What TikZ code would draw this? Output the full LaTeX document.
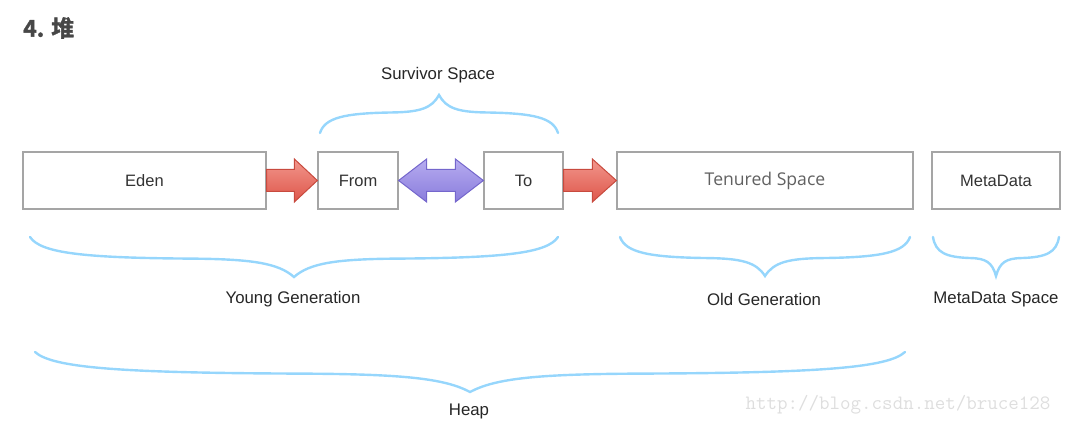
\documentclass[tikz,border=0pt]{standalone}
\usepackage{fontspec}
\setmainfont{Liberation Sans}
\newfontfamily\cjkfont{Noto Sans CJK SC}[BoldFont={Noto Sans CJK SC Bold}, BoldFeatures={FakeBold=1.6}]
\newfontfamily\tenfont{Open Sans}
\usepackage{tikz}
\usetikzlibrary{calc}

\definecolor{boxline}{RGB}{165,165,165}
\definecolor{bracecol}{RGB}{150,214,252}
\definecolor{redtop}{RGB}{242,150,140}
\definecolor{redbot}{RGB}{222,86,74}
\definecolor{redline}{RGB}{200,74,62}
\definecolor{violtop}{RGB}{182,172,240}
\definecolor{violbot}{RGB}{138,124,220}
\definecolor{violline}{RGB}{116,102,204}

\tikzset{
  membox/.style={draw=boxline, line width=1.3, fill=white, minimum height=57,
    text=black!80, font=\fontsize{16.5}{19}\selectfont},
  brace/.style={draw=bracecol, line width=2.4, line cap=round},
  lbl/.style={text=black!85, font=\fontsize{16.8}{19}\selectfont},
  redarrow/.style={draw=redline, line width=1, top color=redtop, bottom color=redbot},
  violarrow/.style={draw=violline, line width=1, top color=violtop, bottom color=violbot}
}

% curly brace: x1, x2, y, depth (negative = points up)
\newcommand{\hbrace}[4]{%
  \pgfmathsetmacro{\brw}{#2-#1}
  \draw[brace] (#1,#3) .. controls ({#1+0.02*\brw},{#3+0.4*#4}) and ({#1+0.1*\brw},{#3+0.52*#4}) .. ({#1+0.3*\brw},{#3+0.54*#4})
    .. controls ({#1+0.42*\brw},{#3+0.55*#4}) and ({#1+0.47*\brw},{#3+0.65*#4}) .. ({#1+0.5*\brw},{#3+#4})
    .. controls ({#1+0.53*\brw},{#3+0.65*#4}) and ({#1+0.58*\brw},{#3+0.55*#4}) .. ({#1+0.7*\brw},{#3+0.54*#4})
    .. controls ({#1+0.9*\brw},{#3+0.52*#4}) and ({#1+0.98*\brw},{#3+0.4*#4}) .. (#2,#3);
}

\begin{document}
\begin{tikzpicture}[x=1pt, y=-1pt]
\useasboundingbox (0,0) rectangle (1080,422);

\node[anchor=west, inner sep=0, text=black!72, font=\cjkfont\bfseries\fontsize{23}{26}\selectfont] (title) at (23,28) {4. 堆};

% memory areas
\node[membox, minimum width=243] (eden) at (144.5,180.5) {Eden};
\node[membox, minimum width=80] (from) at (358,180.5) {From};
\node[membox, minimum width=79] (to) at (523.5,180.5) {To};
\node[membox, minimum width=296, text=black!62, font=\tenfont\fontsize{17.6}{20}\selectfont] (tenured) at (765,180.5) {Tenured Space};
\node[membox, minimum width=128] (meta) at (996,180.5) {MetaData};

% block arrows
\draw[redarrow] ($(eden.east)+(0,-11)$) -- ($(from.west)+(-23,-11)$) -- ($(from.west)+(-23,-21.5)$)
  -- (from.west) -- ($(from.west)+(-23,21.5)$) -- ($(from.west)+(-23,11)$) -- ($(eden.east)+(0,11)$) -- cycle;
\draw[violarrow] (from.east) -- ($(from.east)+(28,-21.5)$) -- ($(from.east)+(28,-11)$) -- ($(to.west)+(-28,-11)$)
  -- ($(to.west)+(-28,-21.5)$) -- (to.west) -- ($(to.west)+(-28,21.5)$) -- ($(to.west)+(-28,11)$)
  -- ($(from.east)+(28,11)$) -- ($(from.east)+(28,21.5)$) -- cycle;
\draw[redarrow] ($(to.east)+(0,-11)$) -- ($(tenured.west)+(-24,-11)$) -- ($(tenured.west)+(-24,-21.5)$)
  -- (tenured.west) -- ($(tenured.west)+(-24,21.5)$) -- ($(tenured.west)+(-24,11)$) -- ($(to.east)+(0,11)$) -- cycle;

% braces
\hbrace{320}{558}{133}{-38}
\hbrace{30}{558}{237}{40}
\hbrace{620}{910}{237}{39}
\hbrace{933}{1059}{237}{39}
\hbrace{35}{905}{352}{40}

\node[lbl] (survivor) at (438,75) {Survivor Space};
\node[lbl] (young) at (293,299) {Young Generation};
\node[lbl] (old) at (764,299) {Old Generation};
\node[lbl] (metaspace) at (996,299) {MetaData Space};
\node[lbl] (heap) at (469,411) {Heap};

\node[text=black!13, font=\ttfamily\fontsize{20.4}{22}\selectfont] (mark) at (898,405) {http://blog.csdn.net/bruce128};
\end{tikzpicture}
\end{document}
